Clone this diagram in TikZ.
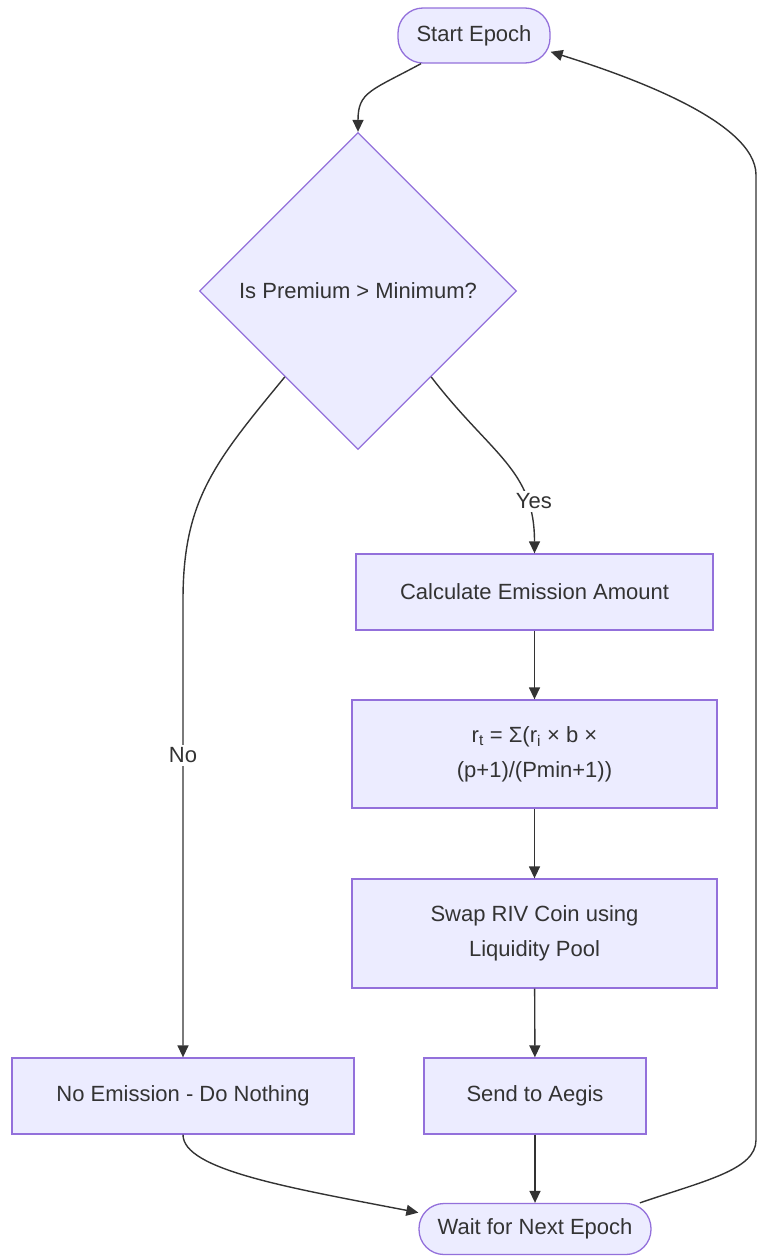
\documentclass[tikz,border=0pt]{standalone}
\usepackage{fontspec}
\setmainfont{Liberation Sans}
\usetikzlibrary{calc}
\usetikzlibrary{shapes.geometric,arrows.meta}

\definecolor{boxfill}{HTML}{ECECFF}
\definecolor{boxline}{HTML}{9370DB}
\definecolor{ink}{HTML}{333333}

\begin{document}
\begin{tikzpicture} [x=1pt, y=-1pt,
		every node/.style={font=\fontsize{22}{35}\selectfont, text=ink},
		box/.style={draw=boxline, fill=boxfill, line width=1.3pt, align=center, inner sep=0pt},
		pill/.style={box, rounded corners=25pt},
		decision/.style={box, diamond, aspect=1},
		flow/.style={draw=ink, line width=1.4pt, -{Triangle[length=12pt, width=11pt]}},
		tag/.style={fill=white, inner sep=3pt}]

		\useasboundingbox (0,0) rectangle (757,1258);

		\node[pill, minimum width=152pt, minimum height=55pt] (start) at (474,35.5) {Start Epoch};

		\node[decision, minimum width=317pt, minimum height=317pt] (cond) at (358,291) {Is Premium > Minimum?};

		\node[box, minimum width=357pt, minimum height=76pt] (calcem) at (534.5,592) {Calculate Emission Amount};

		\node[box, minimum width=365pt, minimum height=108pt] (formula) at (534.5,754)%
		{r\textsubscript{t} = Σ(r\textsubscript{i} × b ×\\ (p+1)/(Pmin+1))};

		\node[box, minimum width=365pt, minimum height=109pt] (swap) at (534.5,933.5)%
		{Swap RIV Coin using\\ Liquidity Pool};

		\node[box, minimum width=222pt, minimum height=76pt] (send) at (535,1096) {Send to Aegis};

		\node[box, minimum width=342pt, minimum height=76pt] (noem) at (183,1096) {No Emission - Do Nothing};

		\node[pill, minimum width=232pt, minimum height=51pt] (wait) at (535,1229) {Wait for Next Epoch};

		\coordinate (yesout) at ($(cond.east)!0.54!(cond.south)$);

		\coordinate (noout) at ($(cond.west)!0.54!(cond.south)$);

		\coordinate (nobend) at (183,600);

		\coordinate (loopb) at (756,1140);

		\coordinate (loopt) at (756,175);

		\draw[flow] (start.208) .. controls +(-50,27) and +(0,-40) .. (cond.north);

		\draw[flow] (yesout) .. controls +(60,78) and +(0,-84) .. node[tag, pos=0.75, xshift=7pt] {Yes} (calcem.north);

		\draw[flow] (noout) .. controls +(-70,85) and +(0,-100) .. (nobend)%
		-- node[tag, pos=0.34] {No} (noem.north);

		\draw[flow] (calcem) -- (formula);

		\draw[flow] (formula) -- (swap);

		\draw[flow] (swap) -- (send);

		\draw[flow] (send) -- (wait);

		\draw[flow] (noem.south) .. controls +(0,35) and +(-130,-25) .. (wait.172);

		\draw[flow] (wait.14) .. controls +(64,-22) and +(0,30) .. (loopb)%
		-- (loopt) .. controls +(0,-55) and +(70,22) .. (start.-12);
	\end{tikzpicture}
\end{document}
